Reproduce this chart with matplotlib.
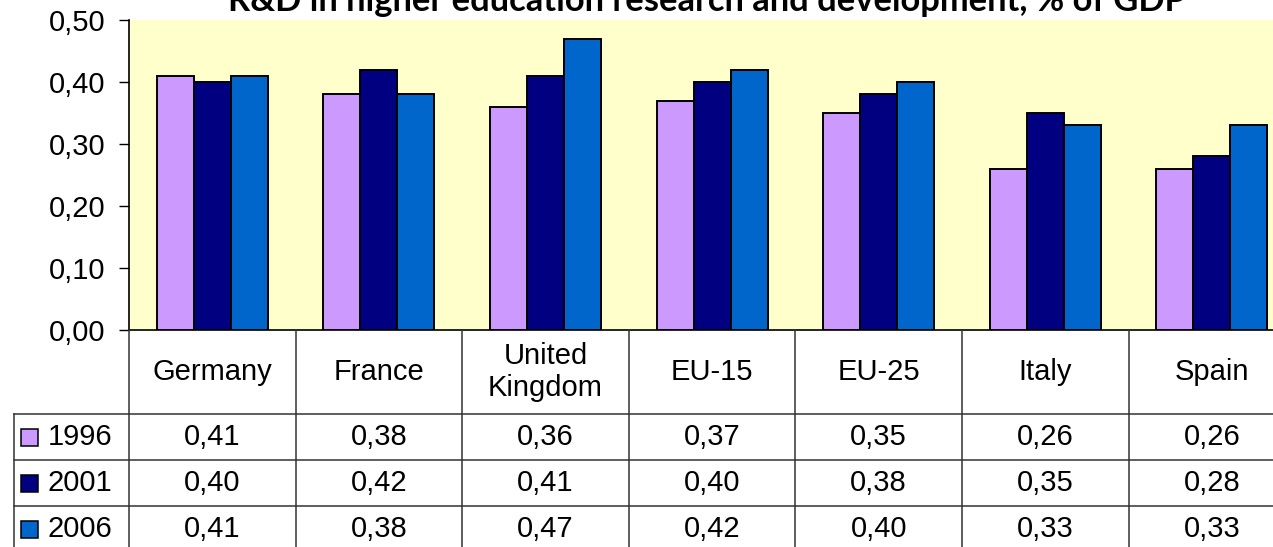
import numpy as np
import matplotlib.pyplot as plt

# data
countries = ["Germany", "France", "United\nKingdom", "EU-15", "EU-25", "Italy", "Spain"]
years = ["1996", "2001", "2006"]
v1996 = [0.41, 0.38, 0.36, 0.37, 0.35, 0.26, 0.26]
v2001 = [0.40, 0.42, 0.41, 0.40, 0.38, 0.35, 0.28]
v2006 = [0.41, 0.38, 0.47, 0.42, 0.40, 0.33, 0.33]
colors = ["#CC99FF", "#000080", "#0066CC"]

W, H = 1273, 547
fig = plt.figure(figsize=(W / 100, H / 100), dpi=100)
plt.rcParams['font.family'] = ['Liberation Sans', 'DejaVu Sans']

# plot area: x 129..1295 px, y 20..330 px
col_px = 166.6
ax = fig.add_axes([129 / W, (H - 330) / H, 7 * col_px / W, 310 / H])
ax.set_facecolor("#FFFFCC")

x = np.arange(len(countries))
bw = 1 / 4.5
series = [v1996, v2001, v2006]
for i, vals in enumerate(series):
    ax.bar(x + (i - 1) * bw, vals, width=bw, color=colors[i],
           edgecolor="black", linewidth=1.4, zorder=3)

ax.set_xlim(-0.5, 6.5)
ax.set_ylim(0, 0.5)
ax.set_yticks(np.arange(0, 0.51, 0.1))
ax.set_yticklabels([f"{t:.2f}".replace(".", ",") for t in np.arange(0, 0.51, 0.1)])
ax.tick_params(axis="y", direction="out", length=7, width=1, labelsize=21, pad=10)
ax.tick_params(axis="x", length=0, labelbottom=False)
ax.spines["top"].set_visible(False)
ax.spines["right"].set_visible(False)
for s in ("left", "bottom"):
    ax.spines[s].set_linewidth(1.2)

# title is partly cut off at the top, as in the source image
fig.text(707 / W, 1 - 11 / H,
         "R&D in higher education research and development, % of GDP",
         ha="center", va="baseline", fontsize=24.8, fontweight="bold",
         family=["Lato", "DejaVu Sans"])

# data table under the chart
hdr, rh = 84, 46
tab_h = hdr + 3 * rh
leg_w = 115 / col_px
tab = fig.add_axes([14 / W, (H - 330 - tab_h) / H, (7 * col_px + 115) / W, tab_h / H])
tab.set_xlim(-0.5 - leg_w, 6.5)
tab.set_ylim(tab_h, 0)
tab.axis("off")

lc = "#333333"
for k in range(8):
    tab.plot([k - 0.5, k - 0.5], [0, tab_h], color=lc, lw=1.1, clip_on=False)
tab.plot([-0.5 - leg_w] * 2, [hdr, tab_h], color=lc, lw=1.1, clip_on=False)
for r in range(3):
    yl = hdr + r * rh
    tab.plot([-0.5 - leg_w, 6.5], [yl, yl], color=lc, lw=1.1, clip_on=False)

for j, c in enumerate(countries):
    tab.text(j, hdr / 2, c, ha="center", va="center", fontsize=21, linespacing=1.15)

for r, (yr, vals) in enumerate(zip(years, series)):
    yc = hdr + r * rh + rh / 2
    sq = 17 / col_px
    x0 = -0.5 - leg_w + 7 / col_px
    tab.add_patch(plt.Rectangle((x0, yc - 8.5), sq, 17, facecolor=colors[r],
                                edgecolor="black", lw=1.1, clip_on=False))
    tab.text(-0.5 - leg_w + 34 / col_px, yc, yr, ha="left", va="center", fontsize=21)
    for j, v in enumerate(vals):
        tab.text(j, yc, f"{v:.2f}".replace(".", ","), ha="center", va="center", fontsize=21)

fig.savefig("out.png", dpi=100)
